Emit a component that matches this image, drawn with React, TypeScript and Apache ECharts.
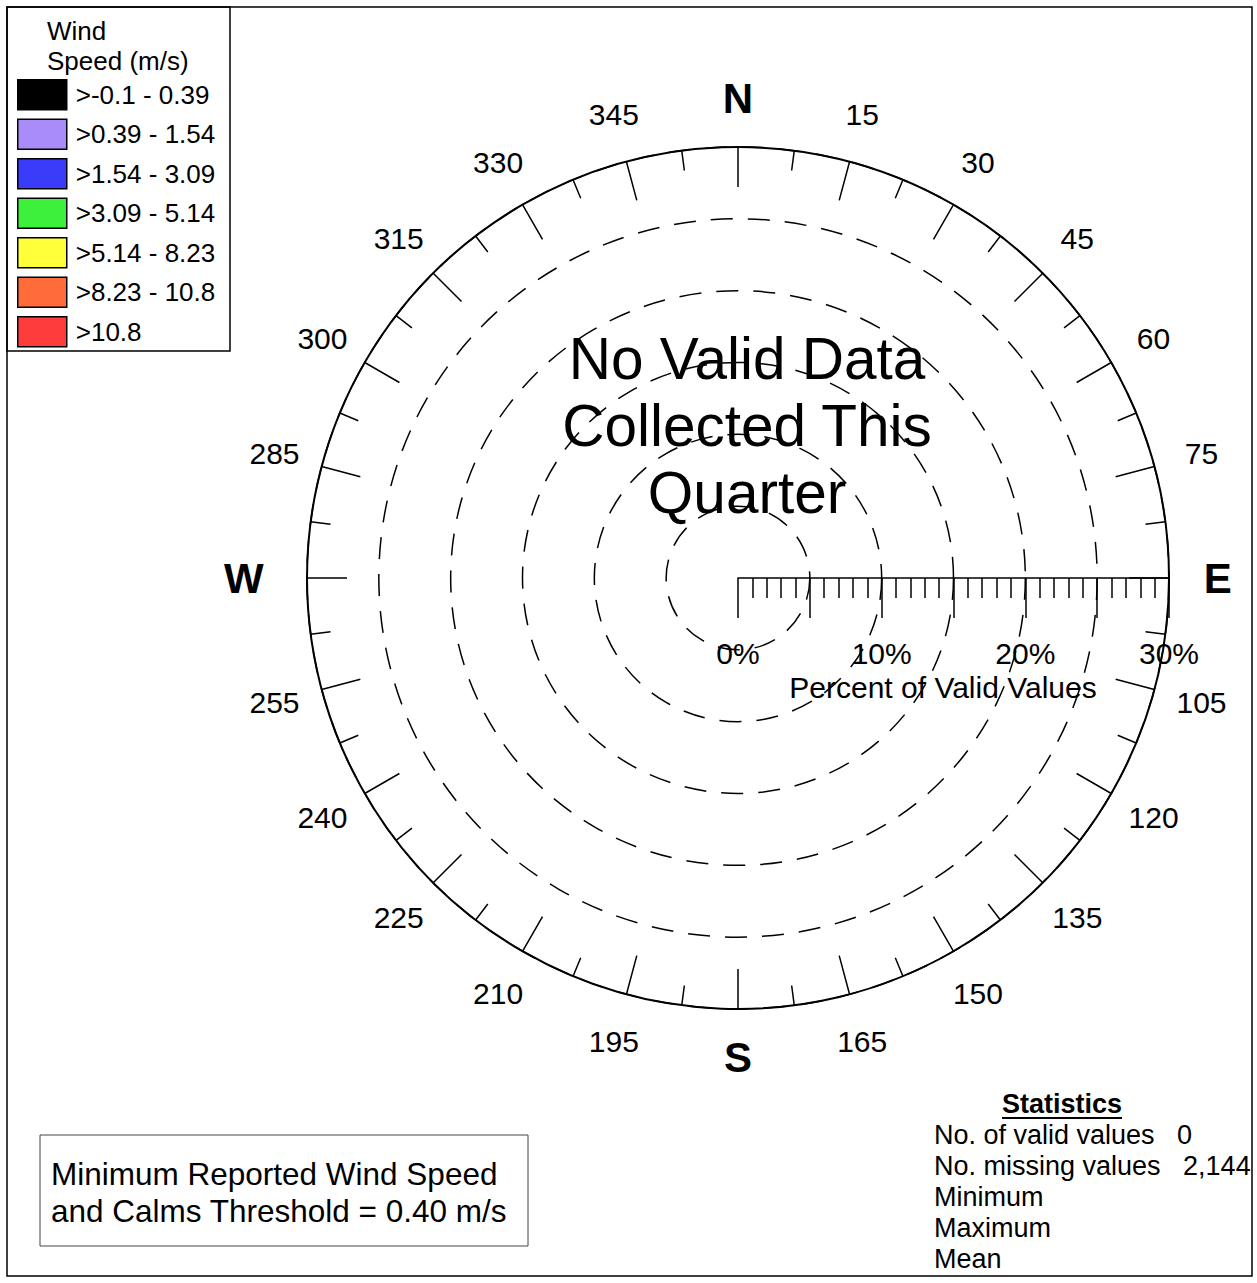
import React, { useEffect, useRef } from 'react';
import * as echarts from 'echarts';

const FONT = "'Liberation Sans', Arial, Helvetica, sans-serif";

// Wind speed classes (m/s) and their fill colours
const speedBins = ['>-0.1 - 0.39', '>0.39 - 1.54', '>1.54 - 3.09', '>3.09 - 5.14', '>5.14 - 8.23', '>8.23 - 10.8', '>10.8'];
const speedColors = ['#000000', '#A98BFA', '#3B3BFA', '#3CF03C', '#FFFF3A', '#FF6C3A', '#FF3C3C'];
// Percent of valid values per direction sector, one list per speed class (none this quarter)
const speedFrequencies: number[][] = [[], [], [], [], [], [], []];

// Compass labels every 15 degrees, clockwise from north
const compassLabels = ['N', '15', '30', '45', '60', '75', 'E', '105', '120', '135', '150', '165', 'S', '195', '210', '225', '240', '255', 'W', '285', '300', '315', '330', '345'];
const compassStep = 15;

// Percent scale
const percentMax = 30;
const ringStep = 5;
const percentLabels = [0, 10, 20, 30];

// Statistics block
const statNames = ['No. of valid values', 'No. missing values', 'Minimum', 'Maximum', 'Mean'];
const statValues = ['0', '2,144', '', '', ''];

const noDataLines = ['No Valid Data', 'Collected This', 'Quarter'];
const thresholdLines = ['Minimum Reported Wind Speed', 'and Calms Threshold = 0.40 m/s'];
const legendTitle = ['Wind', 'Speed (m/s)'];

const CENTER: [number, number] = [738, 578];
const RADIUS = 431;

function labelRadius(label: string): number {
  return label === 'W' ? 34.4 : 33.4;
}

export default function App() {
  const ref = useRef<HTMLDivElement>(null);

  useEffect(() => {
    if (!ref.current) return;
    const chart = echarts.init(ref.current, undefined, { renderer: 'svg' });

    const black = '#000';
    const textBase = { fontFamily: FONT, fill: black };

    const compassData = compassLabels.map((t, i) => {
      const cardinal = /^[NESW]$/.test(t);
      return {
        value: [labelRadius(t), i * compassStep],
        name: t,
        label: cardinal ? { fontSize: 42, fontWeight: 'bold' } : undefined,
      };
    });

    const windSeries = speedBins.map((name, i) => ({
      name,
      type: 'bar',
      coordinateSystem: 'polar',
      polarIndex: 0,
      stack: 'rose',
      data: speedFrequencies[i],
      itemStyle: { color: speedColors[i], borderColor: black, borderWidth: 1 },
    }));

    const graphics: any[] = [
      // outer frame
      {
        type: 'rect',
        shape: { x: 7, y: 7, width: 1245, height: 1269 },
        style: { fill: 'none', stroke: black, lineWidth: 1.5 },
        z: 10,
      },
      // legend box
      {
        type: 'rect',
        shape: { x: 7, y: 7, width: 223, height: 344 },
        style: { fill: 'none', stroke: black, lineWidth: 1.5 },
        z: 10,
      },
      ...legendTitle.map((t, i) => ({
        type: 'text',
        x: 47,
        y: 31 + i * 30,
        style: { ...textBase, text: t, fontSize: 26, align: 'left', verticalAlign: 'middle' },
      })),
      // no-data message
      {
        type: 'text',
        x: 747,
        y: 425,
        style: {
          ...textBase,
          text: noDataLines.join('\n'),
          fontSize: 58.5,
          lineHeight: 67,
          align: 'center',
          verticalAlign: 'middle',
        },
      },
      // threshold note
      {
        type: 'rect',
        shape: { x: 40, y: 1135, width: 488, height: 111 },
        style: { fill: 'none', stroke: '#444', lineWidth: 1 },
      },
      ...thresholdLines.map((t, i) => ({
        type: 'text',
        x: 51,
        y: 1174 + i * 37,
        style: { ...textBase, text: t, fontSize: 31.5, align: 'left', verticalAlign: 'middle' },
      })),
      // statistics
      {
        type: 'text',
        x: 1062,
        y: 1104,
        style: { ...textBase, text: 'Statistics', fontSize: 27, fontWeight: 'bold', align: 'center', verticalAlign: 'middle' },
      },
      {
        type: 'line',
        shape: { x1: 1002, y1: 1118, x2: 1122, y2: 1118 },
        style: { stroke: black, lineWidth: 2 },
      },
      ...statNames.map((t, i) => ({
        type: 'text',
        x: 934,
        y: 1135 + i * 31,
        style: {
          ...textBase,
          text: statValues[i] ? `${t}   ${statValues[i]}` : t,
          fontSize: 27,
          align: 'left',
          verticalAlign: 'middle',
        },
      })),
    ];

    chart.setOption({
      animation: false,
      backgroundColor: '#fff',
      textStyle: { fontFamily: FONT },
      polar: { center: CENTER, radius: RADIUS },
      angleAxis: {
        type: 'value',
        min: 0,
        max: 360,
        interval: compassStep,
        startAngle: 90,
        clockwise: true,
        axisLine: { lineStyle: { color: black, width: 2 } },
        axisTick: { show: true, inside: true, length: 40, lineStyle: { color: black, width: 1.5 } },
        minorTick: { show: true, splitNumber: 2, length: 20, lineStyle: { color: black, width: 1.5 } },
        axisLabel: { show: false },
        splitLine: { show: false },
      },
      radiusAxis: {
        type: 'value',
        min: 0,
        max: percentMax,
        interval: ringStep,
        axisLine: { show: false },
        axisTick: { show: false },
        axisLabel: { show: false },
        splitLine: { show: true, lineStyle: { color: black, width: 1.5, type: [22, 15] } },
      },
      grid: { left: CENTER[0], top: CENTER[1] - 100, width: RADIUS, height: 100 },
      xAxis: {
        type: 'value',
        min: 0,
        max: percentMax,
        interval: ringStep,
        position: 'bottom',
        axisLine: { lineStyle: { color: black, width: 1.5 } },
        axisTick: { show: true, length: 40, lineStyle: { color: black, width: 1.5 } },
        minorTick: { show: true, splitNumber: 5, length: 20, lineStyle: { color: black, width: 1.5 } },
        splitLine: { show: false },
        axisLabel: {
          margin: 60,
          fontSize: 30,
          color: black,
          fontFamily: FONT,
          formatter: (v: number) => (percentLabels.includes(v) ? `${v}%` : ''),
        },
        name: 'Percent of Valid Values',
        nameLocation: 'middle',
        nameGap: 94,
        nameTextStyle: { fontSize: 30, color: black, fontFamily: FONT, padding: [0, 21, 0, 0] },
      },
      yAxis: { type: 'value', show: false },
      legend: {
        data: speedBins,
        orient: 'vertical',
        left: 17,
        top: 79,
        padding: 0,
        itemWidth: 49,
        itemHeight: 30,
        itemGap: 8,
        icon: 'rect',
        selectedMode: false,
        itemStyle: { borderColor: black, borderWidth: 1.5 },
        textStyle: { fontSize: 26, color: black, fontFamily: FONT, padding: [0, 0, 0, 4] },
      },
      series: [
        ...windSeries,
        {
          name: 'compass',
          type: 'scatter',
          coordinateSystem: 'polar',
          polarIndex: 0,
          clip: false,
          silent: true,
          symbolSize: 1,
          itemStyle: { color: '#fff', opacity: 1 },
          label: {
            show: true,
            position: 'inside',
            formatter: '{b}',
            color: black,
            opacity: 1,
            textBorderWidth: 0,
            fontSize: 30,
            fontFamily: FONT,
          },
          data: compassData,
        },
      ],
      graphic: graphics,
    });

    return () => chart.dispose();
  }, []);

  return (
    <div
      ref={ref}
      style={{ position: 'absolute', left: 0, top: 0, width: 1257, height: 1283, background: '#fff' }}
    />
  );
}
